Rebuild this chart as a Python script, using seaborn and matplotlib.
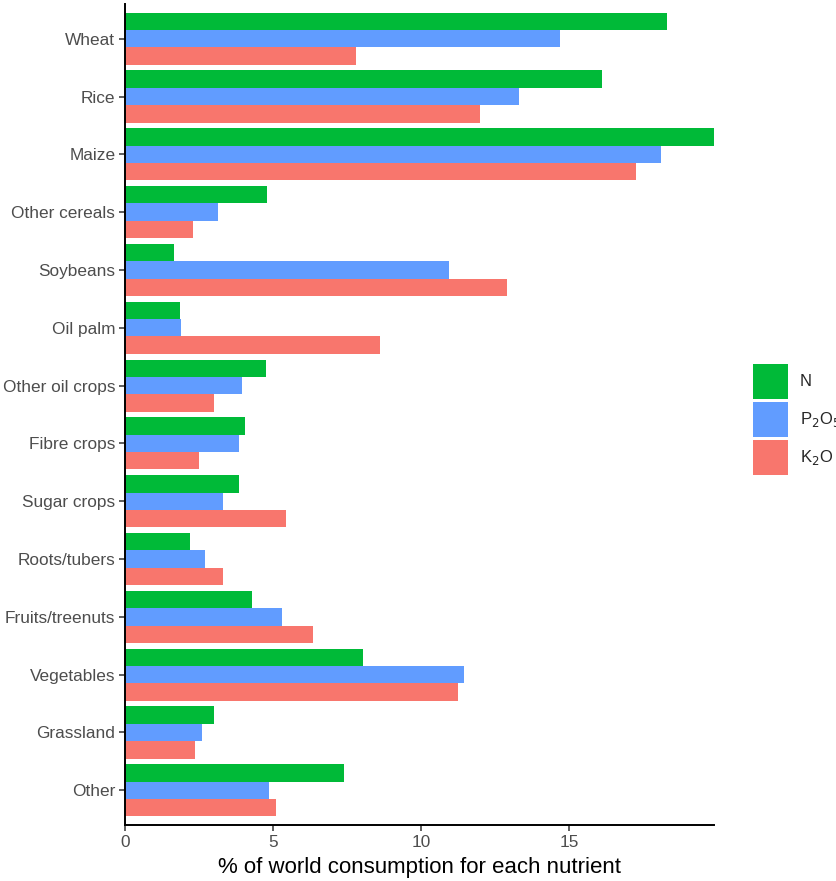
import matplotlib
matplotlib.use("Agg")
import matplotlib.pyplot as plt
from matplotlib.patches import Patch
import seaborn as sns
import pandas as pd

crops = ["Wheat", "Rice", "Maize", "Other cereals", "Soybeans", "Oil palm",
         "Other oil crops", "Fibre crops", "Sugar crops", "Roots/tubers",
         "Fruits/treenuts", "Vegetables", "Grassland", "Other"]
n_share = [18.3, 16.1, 19.9, 4.8, 1.65, 1.85, 4.75, 4.05, 3.85, 2.2, 4.3, 8.05, 3.0, 7.4]
p_share = [14.7, 13.3, 18.1, 3.15, 10.95, 1.9, 3.95, 3.85, 3.3, 2.7, 5.3, 11.45, 2.6, 4.85]
k_share = [7.8, 12.0, 17.25, 2.3, 12.9, 8.6, 3.0, 2.5, 5.45, 3.3, 6.35, 11.25, 2.35, 5.1]

nutrients = ["N", "P2O5", "K2O"]
nutrient_labels = ["N", r"P$_2$O$_5$", r"K$_2$O"]
colors = ["#00BA38", "#619CFF", "#F8766D"]

df = pd.concat([
    pd.DataFrame({"crop": crops, "nutrient": nut, "share": vals})
    for nut, vals in zip(nutrients, [n_share, p_share, k_share])
])

sns.set_style("white")
plt.rcParams["font.family"] = ["Liberation Sans", "DejaVu Sans"]

fig = plt.figure(figsize=(8.37, 8.81), dpi=100)
ax = fig.add_axes([125 / 837, 1 - 825 / 881, (714 - 125) / 837, (825 - 4) / 881])

sns.barplot(data=df, y="crop", x="share", hue="nutrient", order=crops,
            hue_order=nutrients, palette=colors, width=0.9, gap=0,
            saturation=1, orient="h", ax=ax, legend=False,
            edgecolor="none", linewidth=0)

ax.set_xlim(0, max(n_share + p_share + k_share))
ax.set_ylim(len(crops) - 0.4, -0.6)
ax.set_xticks([0, 5, 10, 15])
ax.set_xticklabels(["0", "5", "10", "15"])
ax.set_ylabel("")
ax.set_xlabel("% of world consumption for each nutrient", fontsize=16,
              color="black", labelpad=5)

for side in ["top", "right"]:
    ax.spines[side].set_visible(False)
for side in ["left", "bottom"]:
    ax.spines[side].set_color("black")
    ax.spines[side].set_linewidth(1.4)

ax.tick_params(axis="both", which="both", length=4, width=1.1, color="#333333",
               labelcolor="#4D4D4D", labelsize=12.4, pad=3,
               left=True, bottom=True)
ax.grid(False)

handles = [Patch(facecolor=c, edgecolor="none") for c in colors]
fig.legend(handles, nutrient_labels, loc="center left",
           bbox_to_anchor=(753 / 837, 1 - 419.5 / 881), frameon=False,
           fontsize=12, handlelength=2.1, handleheight=2.85,
           labelspacing=0.18, handletextpad=0.7, borderpad=0, borderaxespad=0)

fig.savefig("out.png", dpi=100)
